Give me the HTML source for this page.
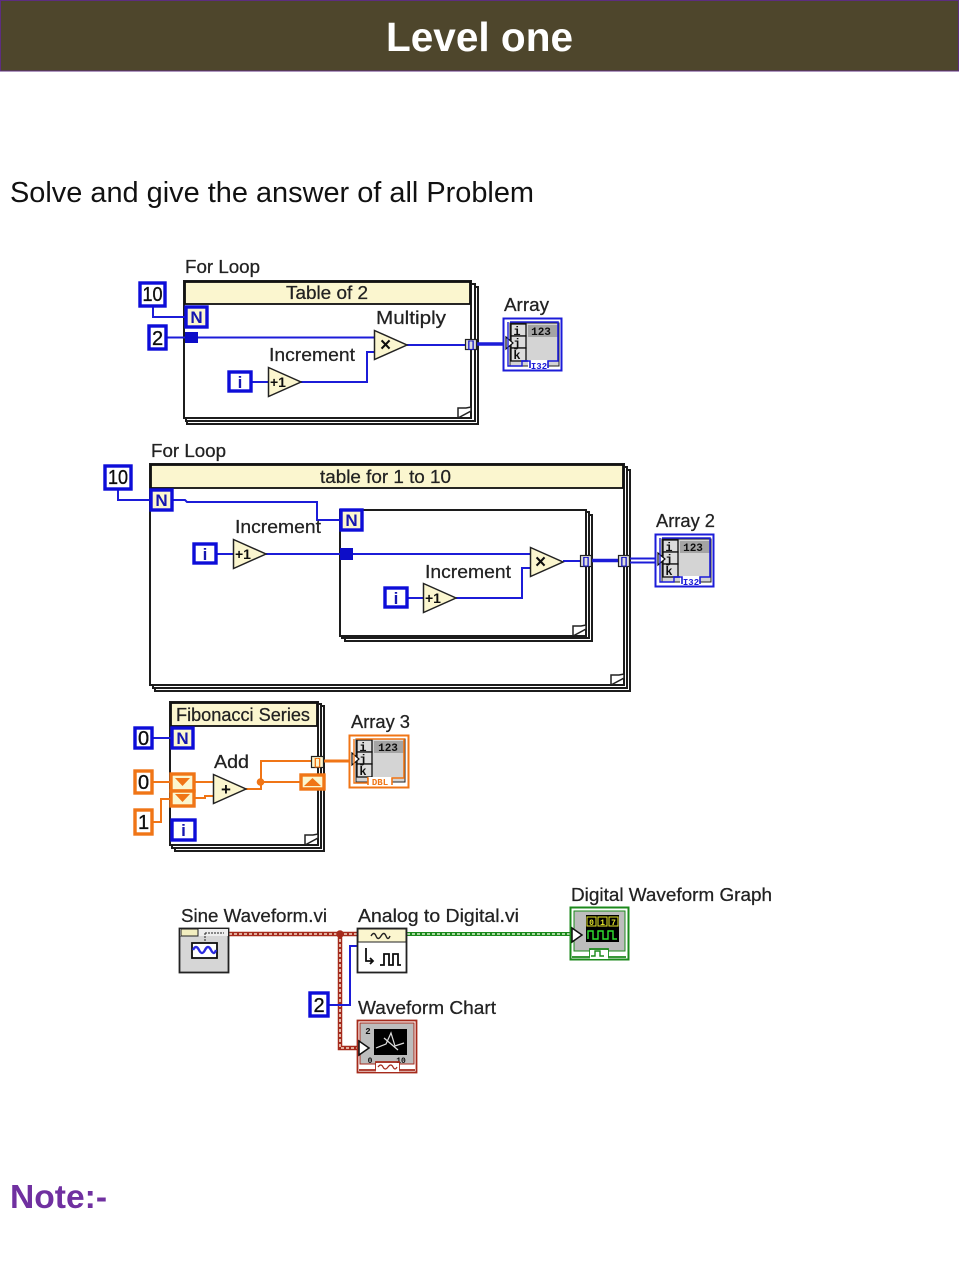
<!DOCTYPE html>
<html><head><meta charset="utf-8"><style>
html,body{margin:0;padding:0;background:#fff;width:959px;height:1279px;overflow:hidden}
svg{display:block}
.l{font-family:"Liberation Sans",sans-serif;font-size:18px;fill:#222;stroke:#222;stroke-width:.25}
.c{font-family:"Liberation Sans",sans-serif;font-size:20px;fill:#111;stroke:#111;stroke-width:.35}
.b{font-family:"Liberation Sans",sans-serif;font-weight:bold;fill:#111}
.m{font-family:"Liberation Mono",monospace;font-weight:bold;fill:#111}
</style></head><body>
<svg width="959" height="1279" viewBox="0 0 959 1279" xmlns="http://www.w3.org/2000/svg">
<defs>
<filter id="s" x="-2%" y="-2%" width="104%" height="104%"><feGaussianBlur stdDeviation="0.3"/></filter>
<symbol id="arr" overflow="visible">
<rect x="7" y="5" width="49" height="43" fill="#d4d4d4" stroke="#222" stroke-width="1"/>
<rect x="8" y="6" width="15" height="12" fill="#ddd" stroke="#111" stroke-width="1.300"/>
<rect x="8" y="18" width="15" height="12" fill="#ddd" stroke="#111" stroke-width="1.300"/>
<rect x="8" y="30" width="15" height="13" fill="#ddd" stroke="#111" stroke-width="1.300"/>
<rect x="25" y="7" width="30" height="12" fill="#a4a4a4"/>
<path d="M3 19l7 6-7 6z" fill="#fff" stroke="#111" stroke-width="1.200"/>
</symbol>
<symbol id="tri" overflow="visible"><path d="M0.5 0.5L33 15L0.5 29.5Z" fill="#fbf6cf" stroke="#222" stroke-width="1.500"/></symbol>
</defs>

<rect x="0.5" y="0.5" width="958" height="70.5" fill="#4e462c" stroke="#5d2d80" stroke-width="1"/>
<text x="386" y="51" font-family="'Liberation Sans',sans-serif" font-weight="bold" font-size="41" fill="#fff" textLength="187" lengthAdjust="spacingAndGlyphs">Level one</text>
<text x="10" y="202" font-family="'Liberation Sans',sans-serif" font-size="29" fill="#111" textLength="524" lengthAdjust="spacingAndGlyphs">Solve and give the answer of all Problem</text>
<text x="10" y="1208" font-family="'Liberation Sans',sans-serif" font-weight="bold" font-size="33" fill="#7030a0" textLength="97" lengthAdjust="spacingAndGlyphs">Note:-</text>

<g filter="url(#s)">
<!-- LOOP 1 -->
<text class="l" x="185" y="273" textLength="75" lengthAdjust="spacingAndGlyphs">For Loop</text>
<g fill="#fff" stroke="#1a1a1a" stroke-width="2">
<rect x="187" y="287" width="291" height="137"/>
<rect x="186" y="284" width="289" height="137"/>
<rect x="184" y="281" width="287" height="137"/>
</g>
<rect x="185" y="282" width="285" height="22" fill="#fbf6cf" stroke="#111" stroke-width="1.800"/>
<text class="l" x="286" y="299" textLength="82" lengthAdjust="spacingAndGlyphs">Table of 2</text>
<path d="M458 418V408H466L471 407V411L458 418" fill="#fff" stroke="#222" stroke-width="1.500"/>
<g fill="none" stroke="#1c1cd8" stroke-width="2">
<path d="M153 307V317H185"/>
<path d="M167 337.500H375"/>
<path d="M251 382H268"/>
<path d="M301 382H367V352H375"/>
<path d="M407 345H466"/>
<path d="M477 344H505" stroke-width="3.500"/>
</g>
<rect x="140" y="283" width="25" height="23" fill="#fff" stroke="#0a0ad8" stroke-width="3.400"/>
<text class="c" x="152.500" y="301" text-anchor="middle" textLength="20" lengthAdjust="spacingAndGlyphs">10</text>
<rect x="186" y="307" width="21" height="20" fill="#fbf6cf" stroke="#0a0ad8" stroke-width="3.400"/>
<text class="b" x="196.500" y="323" text-anchor="middle" font-size="17" style="fill:#1212b0">N</text>
<rect x="149" y="326" width="17" height="23" fill="#fff" stroke="#0a0ad8" stroke-width="3.400"/>
<text class="c" x="157.500" y="345" text-anchor="middle">2</text>
<rect x="185" y="332" width="13" height="11" fill="#0a0ac8"/>
<use href="#tri" x="374" y="330"/>
<text class="b" x="380" y="351" font-size="19">×</text>
<text class="l" x="376" y="324" textLength="70" lengthAdjust="spacingAndGlyphs">Multiply</text>
<text class="l" x="269" y="361" textLength="86" lengthAdjust="spacingAndGlyphs">Increment</text>
<rect x="229" y="372" width="22" height="19" fill="#fff" stroke="#0a0ad8" stroke-width="3.400"/>
<text class="b" x="240" y="388" text-anchor="middle" font-size="17" style="fill:#1212b0">i</text>
<use href="#tri" x="268" y="367"/>
<text class="b" x="270" y="387" font-size="14">+1</text>
<rect x="465.500" y="339.500" width="11" height="10" fill="#ddd" stroke="#222" stroke-width="1.200"/>
<text class="b" x="471" y="348" text-anchor="middle" font-size="10" style="fill:#1212c8">[]</text>
<text class="l" x="504" y="311" textLength="45" lengthAdjust="spacingAndGlyphs">Array</text>
<rect x="503.500" y="318.500" width="58" height="52" fill="#fff" stroke="#1c1cd8" stroke-width="2"/>
<use href="#arr" x="503" y="318"/>
<path d="M508 322V366H522V361H532" fill="none" stroke="#1c1cd8" stroke-width="1.400"/>
<rect x="528" y="360" width="20" height="9" fill="#fff"/>
<path d="M521 361H530V368M548 368V361H558V322H510" fill="none" stroke="#1c1cd8" stroke-width="1.600"/>
<text class="m" x="517" y="335" text-anchor="middle" font-size="12">i</text>
<text class="m" x="517" y="347" text-anchor="middle" font-size="12">j</text>
<text class="m" x="517" y="359" text-anchor="middle" font-size="12">k</text>
<text class="m" x="541" y="335" text-anchor="middle" font-size="11">123</text>
<text class="m" x="539" y="369" text-anchor="middle" font-size="9" style="fill:#1c1cd8">I32</text>

<!-- LOOP 2 -->
<text class="l" x="151" y="457" textLength="75" lengthAdjust="spacingAndGlyphs">For Loop</text>
<g fill="#fff" stroke="#1a1a1a" stroke-width="2">
<rect x="155" y="470" width="475" height="221"/>
<rect x="153" y="467" width="474" height="221"/>
<rect x="150" y="464" width="474" height="221"/>
</g>
<rect x="151" y="465" width="472" height="23" fill="#fbf6cf" stroke="#111" stroke-width="1.800"/>
<text class="l" x="320" y="483" textLength="131" lengthAdjust="spacingAndGlyphs">table for 1 to 10</text>
<path d="M611 685V675H619L624 674V678L611 685" fill="#fff" stroke="#222" stroke-width="1.500"/>
<g fill="#fff" stroke="#1a1a1a" stroke-width="2">
<rect x="345" y="515" width="247" height="126"/>
<rect x="342" y="512" width="247" height="126"/>
<rect x="340" y="510" width="246" height="126"/>
</g>
<path d="M573 636V626H581L586 625V629L573 636" fill="#fff" stroke="#222" stroke-width="1.500"/>
<g fill="none" stroke="#1c1cd8" stroke-width="2">
<path d="M118 489V500H150"/>
<path d="M173 500H185L187 502H317V520H340"/>
<path d="M216 554H233"/>
<path d="M266 554H530"/>
<path d="M407 598H423"/>
<path d="M456 598H522V568H530"/>
<path d="M563 561H580"/>
<path d="M592 560.500H618" stroke-width="3.500"/>
<path d="M630 558.500H657M630 562.500H657"/>
</g>
<rect x="105" y="466" width="26" height="23" fill="#fff" stroke="#0a0ad8" stroke-width="3.400"/>
<text class="c" x="118" y="484" text-anchor="middle" textLength="20" lengthAdjust="spacingAndGlyphs">10</text>
<rect x="151" y="490" width="21" height="20" fill="#fbf6cf" stroke="#0a0ad8" stroke-width="3.400"/>
<text class="b" x="161.500" y="506" text-anchor="middle" font-size="17" style="fill:#1212b0">N</text>
<rect x="341" y="510" width="21" height="20" fill="#fbf6cf" stroke="#0a0ad8" stroke-width="3.400"/>
<text class="b" x="351.500" y="526" text-anchor="middle" font-size="17" style="fill:#1212b0">N</text>
<rect x="340" y="548" width="13" height="12" fill="#0a0ac8"/>
<text class="l" x="235" y="533" textLength="86" lengthAdjust="spacingAndGlyphs">Increment</text>
<rect x="194" y="544" width="22" height="19" fill="#fff" stroke="#0a0ad8" stroke-width="3.400"/>
<text class="b" x="205" y="560" text-anchor="middle" font-size="17" style="fill:#1212b0">i</text>
<use href="#tri" x="233" y="539"/>
<text class="b" x="235" y="559" font-size="14">+1</text>
<use href="#tri" x="530" y="547"/>
<text class="b" x="535" y="568" font-size="19">×</text>
<text class="l" x="425" y="578" textLength="86" lengthAdjust="spacingAndGlyphs">Increment</text>
<rect x="385" y="588" width="22" height="19" fill="#fff" stroke="#0a0ad8" stroke-width="3.400"/>
<text class="b" x="396" y="604" text-anchor="middle" font-size="17" style="fill:#1212b0">i</text>
<use href="#tri" x="423" y="583"/>
<text class="b" x="425" y="603" font-size="14">+1</text>
<rect x="580.500" y="555.500" width="11" height="11" fill="#ddd" stroke="#222" stroke-width="1.200"/>
<text class="b" x="586" y="564.500" text-anchor="middle" font-size="10" style="fill:#1212c8">[]</text>
<rect x="618.500" y="555.500" width="11" height="11" fill="#ddd" stroke="#222" stroke-width="1.200"/>
<text class="b" x="624" y="564.500" text-anchor="middle" font-size="10" style="fill:#1212c8">[]</text>
<text class="l" x="656" y="527" textLength="59" lengthAdjust="spacingAndGlyphs">Array 2</text>
<rect x="655.500" y="534.500" width="58" height="52" fill="#fff" stroke="#1c1cd8" stroke-width="2"/>
<use href="#arr" x="655" y="534"/>
<path d="M660 538V582H674V577H684" fill="none" stroke="#1c1cd8" stroke-width="1.400"/>
<rect x="680" y="576" width="20" height="9" fill="#fff"/>
<path d="M673 577H682V584M700 584V577H710V538H662" fill="none" stroke="#1c1cd8" stroke-width="1.600"/>
<text class="m" x="669" y="551" text-anchor="middle" font-size="12">i</text>
<text class="m" x="669" y="563" text-anchor="middle" font-size="12">j</text>
<text class="m" x="669" y="575" text-anchor="middle" font-size="12">k</text>
<text class="m" x="693" y="551" text-anchor="middle" font-size="11">123</text>
<text class="m" x="691" y="585" text-anchor="middle" font-size="9" style="fill:#1c1cd8">I32</text>

<!-- LOOP 3 -->
<g fill="#fff" stroke="#1a1a1a" stroke-width="2">
<rect x="175" y="706" width="149" height="145"/>
<rect x="172" y="704" width="149" height="144"/>
<rect x="170" y="702" width="148" height="143"/>
</g>
<rect x="171" y="703" width="146" height="23" fill="#fbf6cf" stroke="#111" stroke-width="1.800"/>
<text class="l" x="176" y="721" textLength="134" lengthAdjust="spacingAndGlyphs">Fibonacci Series</text>
<path d="M305 845V835H313L318 834V838L305 845" fill="#fff" stroke="#222" stroke-width="1.500"/>
<path d="M153 738H172" fill="none" stroke="#1c1cd8" stroke-width="2"/>
<g fill="none" stroke="#f07512" stroke-width="2">
<path d="M153 782H171"/>
<path d="M153 822H161V799H171"/>
<path d="M194 782H213"/>
<path d="M194 798H205V796H213"/>
<path d="M246 789H261V761H312"/>
<path d="M261 782H301"/>
</g>
<path d="M323 761H351" fill="none" stroke="#f07512" stroke-width="3"/>
<rect x="135" y="728" width="17" height="20" fill="#fff" stroke="#0a0ad8" stroke-width="3.400"/>
<text class="c" x="143.500" y="745" text-anchor="middle">0</text>
<rect x="135" y="771" width="17" height="22" fill="#fff" stroke="#f07512" stroke-width="3.400"/>
<text class="c" x="143.500" y="789" text-anchor="middle">0</text>
<rect x="135" y="810" width="17" height="24" fill="#fff" stroke="#f07512" stroke-width="3.400"/>
<text class="c" x="143.500" y="829" text-anchor="middle">1</text>
<rect x="172" y="728" width="21" height="20" fill="#fbf6cf" stroke="#0a0ad8" stroke-width="3.400"/>
<text class="b" x="182.500" y="744" text-anchor="middle" font-size="17" style="fill:#1212b0">N</text>
<rect x="172" y="820" width="23" height="20" fill="#fff" stroke="#0a0ad8" stroke-width="3.400"/>
<text class="b" x="183.500" y="836" text-anchor="middle" font-size="17" style="fill:#1212b0">i</text>
<rect x="171" y="774" width="23" height="17" fill="#fbf6cf" stroke="#f07512" stroke-width="3.400"/>
<path d="M175 778H190L182.500 786Z" fill="#f07512"/>
<rect x="171" y="791" width="23" height="15" fill="#fbf6cf" stroke="#f07512" stroke-width="3.400"/>
<path d="M175 794H190L182.500 802Z" fill="#f07512"/>
<use href="#tri" x="213" y="774"/>
<text class="b" x="221" y="795" font-size="17">+</text>
<text class="l" x="214" y="768" textLength="35" lengthAdjust="spacingAndGlyphs">Add</text>
<circle cx="260.500" cy="782" r="3.800" fill="#f07512"/>
<rect x="301" y="775" width="23" height="14" fill="#fbf6cf" stroke="#f07512" stroke-width="3.400"/>
<path d="M304 786H321L312.500 778Z" fill="#f07512"/>
<rect x="311.500" y="756.500" width="12" height="11" fill="#fbf6cf" stroke="#222" stroke-width="1.200"/>
<text class="b" x="317.500" y="765.500" text-anchor="middle" font-size="10" style="fill:#f07512">[]</text>
<text class="l" x="351" y="728" textLength="59" lengthAdjust="spacingAndGlyphs">Array 3</text>
<rect x="349.500" y="735.500" width="59" height="52" fill="#fff" stroke="#f07512" stroke-width="2"/>
<use href="#arr" x="349" y="734"/>
<path d="M354 739V783H368V778H376" fill="none" stroke="#f07512" stroke-width="1.400"/>
<rect x="368" y="777" width="24" height="9" fill="#fff"/>
<path d="M367 778H368V785M392 785V778H404V739H356" fill="none" stroke="#f07512" stroke-width="1.600"/>
<text class="m" x="363" y="751" text-anchor="middle" font-size="12">i</text>
<text class="m" x="363" y="763" text-anchor="middle" font-size="12">j</text>
<text class="m" x="363" y="775" text-anchor="middle" font-size="12">k</text>
<text class="m" x="388" y="751" text-anchor="middle" font-size="11">123</text>
<text class="m" x="380" y="785" text-anchor="middle" font-size="9" style="fill:#f07512">DBL</text>

<!-- WAVEFORM -->
<text class="l" x="181" y="922" textLength="146" lengthAdjust="spacingAndGlyphs">Sine Waveform.vi</text>
<text class="l" x="358" y="922" textLength="161" lengthAdjust="spacingAndGlyphs">Analog to Digital.vi</text>
<text class="l" x="358" y="1014" textLength="138" lengthAdjust="spacingAndGlyphs">Waveform Chart</text>
<text class="l" x="571" y="901" textLength="201" lengthAdjust="spacingAndGlyphs">Digital Waveform Graph</text>
<g fill="none">
<path d="M229 934H357M340 934V1048H357" stroke="#a52a1a" stroke-width="4.500"/>
<path d="M229 934H357M340 934V1048H357" stroke="#f3d9c8" stroke-width="1.600" stroke-dasharray="3 2"/>
<path d="M407 934H571" stroke="#1c8a1c" stroke-width="4"/>
<path d="M407 934H571" stroke="#d8f0d0" stroke-width="1.500" stroke-dasharray="3 2"/>
<path d="M329 1005H350V946H358" stroke="#1c1cd8" stroke-width="2"/>
</g>
<circle cx="340" cy="934" r="3.800" fill="#a52a1a"/>
<rect x="179.500" y="928.500" width="49" height="44" fill="#d6d6d6" stroke="#222" stroke-width="1.800"/>
<rect x="180" y="929" width="48" height="7" fill="#eee"/>
<rect x="181" y="929" width="17" height="7" fill="#f2eec0" stroke="#222" stroke-width="1"/>
<path d="M205 933H224M205 933V942" stroke="#222" stroke-dasharray="2 1" fill="none"/>
<rect x="192" y="943" width="25" height="15" fill="#fff" stroke="#111" stroke-width="1.800"/>
<path d="M193 950q3-6 6 0t6 0 6 0 5 0" fill="none" stroke="#2a2ae0" stroke-width="2.400"/>
<rect x="357.500" y="928.500" width="49" height="44" fill="#fff" stroke="#222" stroke-width="1.800"/>
<rect x="358" y="929" width="48" height="13" fill="#fbf6cf" stroke="#222" stroke-width="1"/>
<path d="M371 936q3-5 5 0t5 0 5 0 4 0" fill="none" stroke="#222" stroke-width="1.400"/>
<path d="M366 948V961H373M370 958l3 3-3 3M380 965H384V954H389V965H393V954H398V965H401" fill="none" stroke="#111" stroke-width="1.800"/>
<rect x="310" y="993" width="18" height="23" fill="#fff" stroke="#0a0ad8" stroke-width="3.400"/>
<text class="c" x="319" y="1012" text-anchor="middle">2</text>
<rect x="357.500" y="1020.500" width="59" height="52" fill="#fff" stroke="#a52a1a" stroke-width="1.800"/>
<rect x="360" y="1023" width="54" height="41" fill="#bdbdbd" stroke="#a52a1a" stroke-width="1"/>
<rect x="374" y="1029" width="33" height="26" fill="#050505"/>
<path d="M376 1048L386 1044L391 1033L395 1046L404 1043M384 1038L398 1050" fill="none" stroke="#ddd" stroke-width="1.200"/>
<text class="m" x="368" y="1034" text-anchor="middle" font-size="9">2</text>
<text class="m" x="370" y="1063" text-anchor="middle" font-size="8">0</text>
<text class="m" x="401" y="1063" text-anchor="middle" font-size="8">10</text>
<path d="M359 1041l10 7-10 7z" fill="#fff" stroke="#111" stroke-width="1.500"/>
<path d="M359 1070H376V1062H399V1070H415" fill="none" stroke="#a52a1a" stroke-width="1.800"/>
<rect x="376" y="1063" width="23" height="9" fill="#fff"/>
<path d="M378 1067q3-4 5 0t5 0 5 0 4 0" fill="none" stroke="#a52a1a" stroke-width="1.200"/>
<rect x="570.500" y="907.500" width="58" height="52" fill="#fff" stroke="#1c8a1c" stroke-width="2"/>
<rect x="574" y="911" width="51" height="40" fill="#bdbdbd" stroke="#1c8a1c" stroke-width="1"/>
<rect x="586" y="915" width="33" height="27" fill="#050505"/>
<rect x="587" y="917" width="9" height="9" fill="none" stroke="#e6e62a"/><rect x="598" y="917" width="9" height="9" fill="none" stroke="#e6e62a"/><rect x="609" y="917" width="9" height="9" fill="none" stroke="#e6e62a"/>
<text class="m" x="591.500" y="925" text-anchor="middle" font-size="8" style="fill:#e6e62a">0</text>
<text class="m" x="602.500" y="925" text-anchor="middle" font-size="8" style="fill:#e6e62a">1</text>
<text class="m" x="613.500" y="925" text-anchor="middle" font-size="8" style="fill:#e6e62a">7</text>
<path d="M588 939V931H593V939H598V931H603V939H608V931H613V939H617" fill="none" stroke="#2ee02e" stroke-width="1.400"/>
<path d="M572 928l10 7-10 7z" fill="#fff" stroke="#111" stroke-width="1.500"/>
<path d="M572 957H590V949H608V957H626" fill="none" stroke="#1c8a1c" stroke-width="1.800"/>
<rect x="590" y="950" width="18" height="9" fill="#fff"/>
<path d="M591 956H595V951H600V956H604" fill="none" stroke="#1c8a1c" stroke-width="1.400"/>
</g>
</svg>
</body></html>
